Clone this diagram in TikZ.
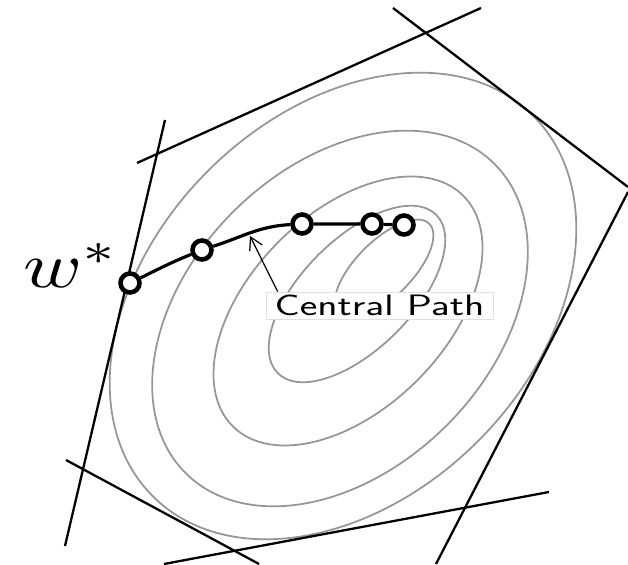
\documentclass[tikz,border=0pt]{standalone}
\usepackage{fontspec}
\usepackage{tikz}
\usetikzlibrary{arrows.meta}
\definecolor{levelgray}{RGB}{150,150,150}
\tikzstyle{constraint} = [
    black,
    line width=1.3pt
]
\tikzstyle{levelset} = [
    draw=levelgray,
    line width=1pt
]
\tikzstyle{iterate} = [
    circle,
    draw=black,
    fill=white,
    line width=2.6pt,
    minimum size=0.38cm,
    inner sep=0pt
]
\tikzstyle{cpath} = [
    black,
    line width=1.8pt
]
\tikzstyle{pathlabel} = [
    rectangle,
    draw=black!12,
    fill=white,
    line width=0.4pt,
    minimum width=4.54cm,
    minimum height=0.54cm,
    inner sep=1pt,
    font=\fontsize{16.8}{18}\selectfont\sffamily
]
\tikzstyle{pointer} = [
    line width=0.7pt,
    -{Straight Barb[length=7pt, width=8pt]}
]

\begin{document}
\begin{tikzpicture}
        \useasboundingbox (0,0) rectangle (12.56,11.30);

        % Level sets
        \draw[levelset, rotate around={45:(6.86,5.18)}] (6.86,5.18) ellipse (5.38 and 3.82);
        \draw[levelset, rotate around={45:(6.80,4.93)}] (6.80,4.93) ellipse (4.37 and 3.02);
        \draw[levelset, rotate around={45:(6.96,5.08)}] (6.96,5.08) ellipse (3.26 and 1.96);
        \draw[levelset, rotate around={45:(7.14,5.42)}] (7.14,5.42) ellipse (2.24 and 1.10);
        \draw[levelset, rotate around={45:(7.68,5.92)}] (7.68,5.92) ellipse (1.28 and 0.56);

        % Constraints
        \draw[constraint] (3.30,8.90) -- (1.30,0.38);
        \draw[constraint] (2.74,8.04) -- (9.62,11.14);
        \draw[constraint] (7.86,11.14) -- (12.56,7.56);
        \draw[constraint] (12.56,7.46) -- (8.72,0.02);
        \draw[constraint] (10.98,1.46) -- (3.28,0.02);
        \draw[constraint] (1.32,2.10) -- (5.18,0.02);

        % Iterates
        \node[iterate] (p1) at (2.60,5.64) {};
        \node[iterate] (p2) at (4.04,6.30) {};
        \node[iterate] (p3) at (6.04,6.82) {};
        \node[iterate] (p4) at (7.44,6.82) {};
        \node[iterate] (p5) at (8.08,6.80) {};
        \draw[cpath] (p1) to[out=26, in=-158] (p2) to[out=18, in=-177] (p3) -- (p4) -- (p5);

        % Optimum
        \node[anchor=base west, inner sep=0pt] (wstar) at (0.46,5.54) {\scalebox{4.53}[3.68]{$w^*$}};

        % Label
        \node[pathlabel] (central) at (7.59,5.19) {\scalebox{1.42}[1]{Central Path}};
        \coordinate (tip) at (5.00,6.58);
        \draw[pointer] ([xshift=0.24cm]central.north west) -- (tip);
    \end{tikzpicture}
\end{document}
